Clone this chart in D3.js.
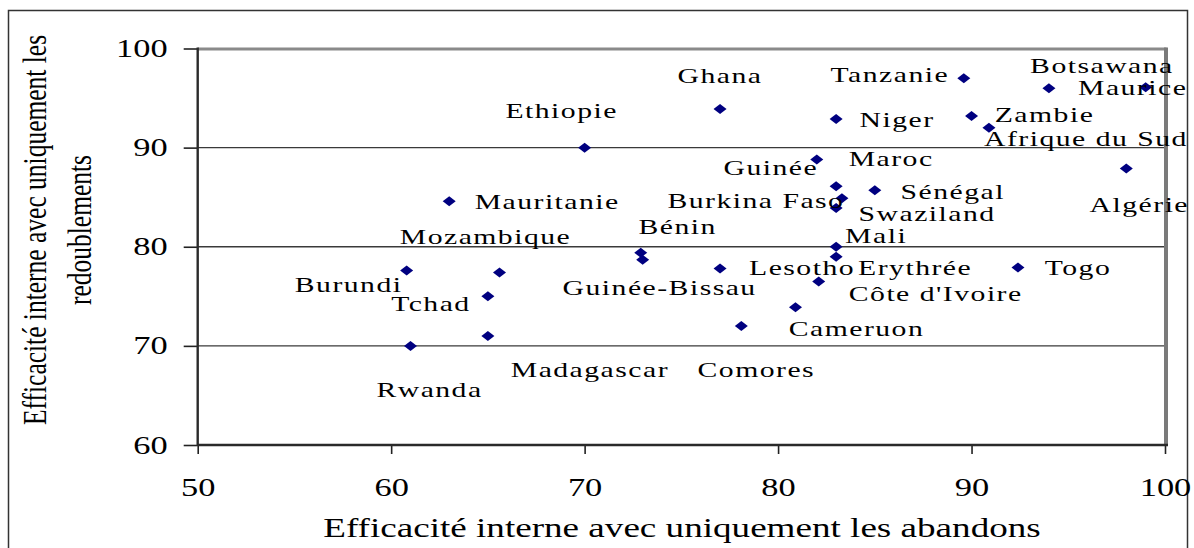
<!DOCTYPE html>
<html lang="fr">
<head>
<meta charset="utf-8">
<script src="https://cdn.jsdelivr.net/npm/d3@7"></script>
<style>
  html, body { margin: 0; padding: 0; background: #fff; }
  svg { display: block; }
  text { font-family: "Liberation Serif", "Times New Roman", serif; fill: #000; }
</style>
</head>
<body>
<svg id="chart" width="1194" height="548"></svg>
<script>
// Pays et valeurs d'efficacité interne
const countries = [
  "Ethiopie", "Ghana", "Tanzanie", "Botsawana", "Maurice", "Zambie",
  "Afrique du Sud", "Niger", "Guinée", "Maroc", "Burkina Faso", "Swaziland",
  "Sénégal", "Mali", "Erythrée", "Lesotho", "Togo", "Algérie",
  "Côte d'Ivoire", "Cameruon", "Comores", "Madagascar", "Rwanda", "Burundi",
  "Tchad", "Mozambique", "Mauritanie", "Bénin", "Guinée-Bissau"
];
// Efficacité interne avec uniquement les abandons
const abandons = [
  70.0, 77.0, 89.6, 94.0, 99.0, 90.0,
  90.9, 83.0, 82.0, 83.0, 83.3, 83.0,
  85.0, 83.0, 83.0, 77.0, 92.4, 98.0,
  82.1, 80.9, 78.1, 65.0, 61.0, 60.8,
  65.0, 65.6, 63.0, 72.9, 73.0
];
// Efficacité interne avec uniquement les redoublements
const redoublements = [
  90.0, 93.9, 97.0, 96.0, 96.1, 93.2,
  92.0, 92.9, 88.8, 86.1, 84.9, 83.9,
  85.7, 80.0, 79.0, 77.8, 77.9, 87.9,
  76.5, 73.9, 72.0, 71.0, 70.0, 77.6,
  75.0, 77.4, 84.6, 79.4, 78.7
];

const xTicks = [50, 60, 70, 80, 90, 100];
const yTicks = [60, 70, 80, 90, 100];
const gridValues = [70, 80, 90];

const xTitle = "Efficacité interne avec uniquement les abandons";
const yTitleLines = ["Efficacité interne avec uniquement les", "redoublements"];

// Décalage (px) de chaque étiquette par rapport à son point
const labelDx = [
  -23, 0, -74, 53, -13, 73,
  97, 61, -46, 55, -86, 91,
  78, 40, 79, 82, 60, 13,
  117, 61, 15, 102, 19, -58,
  -57, -14, 98, 37, 17
];
const labelDy = [
  -30, -26, 4, -15, 8, 6,
  18, 8, 15, -20, 10, 13,
  9, -4, 18, 6, 7, 44,
  20, 29, 51, 41, 51, 21,
  15, -29, 8, -19, 35
];

const STRETCH = 1.35; // largeur des caractères

const svg = d3.select("#chart");
const plot = { left: 197.7, right: 1165, top: 48.5, bottom: 445 };

const x = d3.scaleLinear().domain([50, 100]).range([plot.left, plot.right]);
const y = d3.scaleLinear().domain([60, 100]).range([plot.bottom, plot.top]);

// cadre extérieur
svg.append("rect")
  .attr("x", 8.5).attr("y", 10.5)
  .attr("width", 1179).attr("height", 600)
  .attr("fill", "none").attr("stroke", "#333").attr("stroke-width", 1.5);

// lignes de quadrillage
svg.append("g").selectAll("line").data(gridValues).join("line")
  .attr("x1", plot.left).attr("x2", plot.right)
  .attr("y1", d => y(d)).attr("y2", d => y(d))
  .attr("stroke", "#3a3a3a").attr("stroke-width", 1.4);

// bordure grise haut / droite
svg.append("line")
  .attr("x1", plot.left).attr("x2", plot.right + 1.5)
  .attr("y1", y(100) + 0.5).attr("y2", y(100) + 0.5)
  .attr("stroke", "#8a8a8a").attr("stroke-width", 3);
svg.append("line")
  .attr("x1", plot.right + 1).attr("x2", plot.right + 1)
  .attr("y1", y(100) - 1).attr("y2", plot.bottom + 1)
  .attr("stroke", "#7a7a7a").attr("stroke-width", 4);

// axe Y
const yAxis = svg.append("g")
  .attr("transform", `translate(${plot.left},0)`)
  .call(d3.axisLeft(y).tickValues(yTicks).tickSize(14).tickSizeOuter(0));
yAxis.select(".domain").remove();
yAxis.selectAll(".tick line").attr("stroke", "#222").attr("stroke-width", 1.6);
yAxis.selectAll(".tick text")
  .attr("x", null).attr("dy", null).attr("y", 8)
  .attr("text-anchor", "end")
  .attr("transform", `translate(-30,0) scale(${STRETCH},1)`)
  .style("font-family", "'Liberation Serif', 'Times New Roman', serif")
  .style("font-size", "25.5px").attr("fill", "#000");

// axe X
const xAxis = svg.append("g")
  .attr("transform", `translate(0,${plot.bottom})`)
  .call(d3.axisBottom(x).tickValues(xTicks).tickSize(9).tickSizeOuter(0));
xAxis.select(".domain").remove();
xAxis.selectAll(".tick line").attr("stroke", "#222").attr("stroke-width", 1.6);
xAxis.selectAll(".tick text")
  .attr("y", null).attr("dy", null)
  .attr("text-anchor", "middle")
  .attr("transform", `translate(0,51) scale(${STRETCH},1)`)
  .style("font-family", "'Liberation Serif', 'Times New Roman', serif")
  .style("font-size", "25.5px").attr("fill", "#000");

// lignes d'axe
svg.append("line")
  .attr("x1", plot.left).attr("x2", plot.left)
  .attr("y1", y(100) - 1).attr("y2", plot.bottom + 1)
  .attr("stroke", "#2a2a2a").attr("stroke-width", 2.4);
svg.append("line")
  .attr("x1", plot.left).attr("x2", plot.right + 3)
  .attr("y1", plot.bottom).attr("y2", plot.bottom)
  .attr("stroke", "#2a2a2a").attr("stroke-width", 2.6);

// points (losanges)
const diamond = "M0,-5 L6.5,0 L0,5 L-6.5,0 Z";
const pts = countries.map((c, i) => ({ name: c, a: abandons[i], r: redoublements[i], dx: labelDx[i], dy: labelDy[i] }));

svg.append("g").selectAll("path").data(pts).join("path")
  .attr("d", diamond)
  .attr("transform", d => `translate(${x(d.a)},${y(d.r)})`)
  .attr("fill", "#000080");

// étiquettes des pays
svg.append("g").selectAll("text").data(pts).join("text")
  .attr("text-anchor", "middle")
  .attr("transform", d => `translate(${x(d.a) + d.dx},${y(d.r) + d.dy}) scale(${STRETCH},1)`)
  .style("font-size", "22px")
  .style("letter-spacing", "1.1px")
  .text(d => d.name);

// titre de l'axe X
svg.append("text")
  .attr("text-anchor", "middle")
  .attr("transform", `translate(682,537) scale(${STRETCH},1)`)
  .style("font-size", "27.5px")
  .text(xTitle);

// titre de l'axe Y (deux lignes)
const yTitle = svg.append("text")
  .attr("text-anchor", "middle")
  .attr("transform", `translate(46,230) scale(${STRETCH},1) rotate(-90)`)
  .style("font-size", "25.5px");
yTitleLines.forEach((line, i) => {
  yTitle.append("tspan").attr("x", 0).attr("y", i * 33).text(line);
});
</script>
</body>
</html>
